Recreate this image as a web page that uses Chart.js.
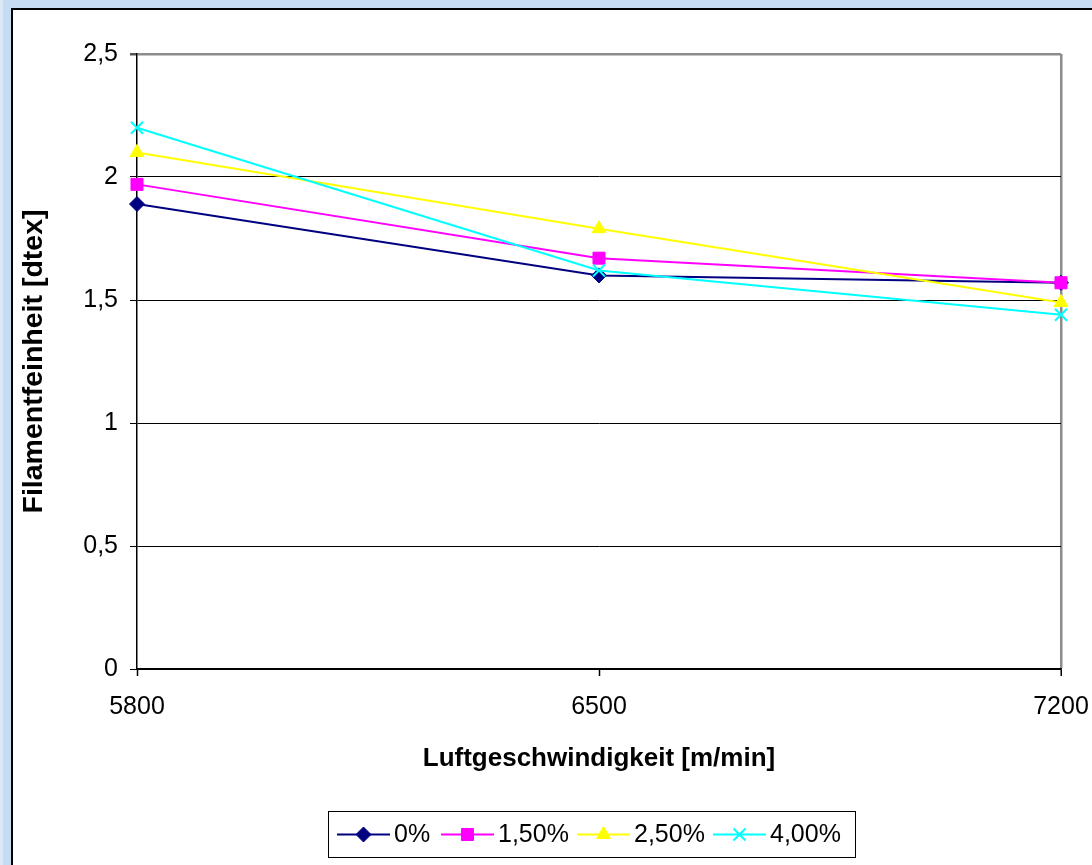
<!DOCTYPE html>
<html>
<head>
<meta charset="utf-8">
<script src="https://cdn.jsdelivr.net/npm/chart.js@4"></script>
<style>
  html, body { margin: 0; padding: 0; width: 1092px; height: 865px; overflow: hidden; background: #c6dcf3; }
  #edgeL { position: absolute; left: 0; top: 0; width: 3px; height: 865px; background: #dbe8f6; }
  #frame { position: absolute; left: 11px; top: 8px; right: 0; bottom: 0; background: #fff;
           border-left: 2px solid #000; border-top: 2px solid #000; }
  #wrap { position: absolute; left: 0; top: 0; width: 1092px; height: 865px; }
</style>
</head>
<body>
<div id="edgeL"></div>
<div id="frame"></div>
<div id="wrap"><canvas id="c" width="1092" height="865"></canvas></div>
<script>
// Air speed categories (m/min)
const categories = ['5800', '6500', '7200'];

// Filament fineness (dtex) per additive share
const series0   = [1.89, 1.60, 1.57];
const series150 = [1.97, 1.67, 1.57];
const series250 = [2.10, 1.79, 1.49];
const series400 = [2.20, 1.62, 1.44];

const seriesLabels = ['0%', '1,50%', '2,50%', '4,00%'];
const yTicks = [0, 0.5, 1, 1.5, 2, 2.5];

const FONT = '"Liberation Sans", Arial, sans-serif';

// Legend box geometry (boxed legend under the chart)
const LEGEND_BOX = { left: 328, top: 811, width: 527, height: 46 };
const LEGEND_ITEM_X = [9, 113, 249, 385];

const boxLegend = {
  id: 'boxLegend',
  afterDraw(chart) {
    const ctx = chart.ctx;
    const b = LEGEND_BOX;
    ctx.save();
    ctx.strokeStyle = '#000';
    ctx.lineWidth = 1;
    ctx.strokeRect(b.left + 0.5, b.top + 0.5, b.width, b.height);
    const cy = b.top + b.height / 2 + 0.5;
    ctx.font = '25px ' + FONT;
    ctx.textBaseline = 'middle';
    ctx.textAlign = 'left';
    chart.data.datasets.forEach((ds, i) => {
      const x = b.left + LEGEND_ITEM_X[i];
      ctx.strokeStyle = ds.borderColor;
      ctx.lineWidth = 2;
      ctx.beginPath();
      ctx.moveTo(x, cy);
      ctx.lineTo(x + 53, cy);
      ctx.stroke();
      ctx.fillStyle = ds.pointBackgroundColor;
      ctx.strokeStyle = ds.pointBorderColor;
      ctx.lineWidth = ds.pointBorderWidth;
      Chart.helpers.drawPoint(ctx, {
        pointStyle: ds.pointStyle, radius: ds.pointRadius,
        borderWidth: ds.pointBorderWidth, rotation: 0
      }, x + 26.5, cy);
      ctx.fillStyle = '#000';
      ctx.fillText(ds.label, x + 57, cy + 1);
    });
    ctx.restore();
  }
};

function lineSet(label, data, color, style, radius, order) {
  return {
    label, data, order,
    borderColor: color,
    backgroundColor: color,
    borderWidth: 2,
    pointStyle: style,
    pointRadius: radius,
    pointHoverRadius: radius,
    pointBackgroundColor: color,
    pointBorderColor: color,
    pointBorderWidth: style === 'crossRot' ? 2 : 1,
    tension: 0,
    clip: false
  };
}

new Chart(document.getElementById('c'), {
  type: 'line',
  data: {
    labels: categories,
    datasets: [
      lineSet(seriesLabels[0], series0,   '#000080', 'rectRot',  7.5, 4),
      lineSet(seriesLabels[1], series150, '#ff00ff', 'rect',     8.5, 3),
      lineSet(seriesLabels[2], series250, '#ffff00', 'triangle', 8,   2),
      lineSet(seriesLabels[3], series400, '#00ffff', 'crossRot', 8.5, 1)
    ]
  },
  options: {
    responsive: false,
    animation: false,
    devicePixelRatio: 1,
    layout: { padding: { left: 14, top: 54, right: 31, bottom: 0 } },
    plugins: { legend: { display: false }, tooltip: { enabled: false } },
    scales: {
      x: {
        type: 'category',
        offset: false,
        afterFit(s) { s.height = 196; s.paddingRight = 0; s.paddingLeft = 0; },
        border: { display: true, color: '#000', width: 1.5 },
        grid: {
          drawOnChartArea: true,
          color: (c) => (c.index === categories.length - 1 ? '#8c8c8c' : 'rgba(0,0,0,0)'),
          lineWidth: (c) => (c.index === categories.length - 1 ? 2.5 : 1),
          tickColor: '#000',
          tickLength: 7,
          tickWidth: 1.5
        },
        ticks: {
          color: '#000',
          font: { family: FONT, size: 25 },
          padding: 16,
          maxRotation: 0,
          autoSkip: false
        },
        title: {
          display: true,
          text: 'Luftgeschwindigkeit [m/min]',
          color: '#000',
          font: { family: FONT, size: 26, weight: 'bold' },
          padding: { top: 0, bottom: 91 }
        }
      },
      y: {
        min: 0,
        max: 2.5,
        afterFit(s) { s.width = 123; },
        afterBuildTicks(s) { s.ticks = yTicks.map(v => ({ value: v })); },
        border: { display: true, color: '#000', width: 1.5 },
        grid: {
          color: (c) => (c.tick && c.tick.value === 2.5 ? '#8c8c8c' : '#000'),
          lineWidth: (c) => (c.tick && c.tick.value === 2.5 ? 2.5 : 1),
          tickColor: (c) => (c.tick && c.tick.value === 2.5 ? '#555' : '#000'),
          tickLength: 7
        },
        ticks: {
          color: '#000',
          font: { family: FONT, size: 25 },
          padding: 12,
          callback: (v) => String(v).replace('.', ',')
        },
        title: {
          display: true,
          text: 'Filamentfeinheit [dtex]',
          color: '#000',
          font: { family: FONT, size: 28.5, weight: 'bold' },
          padding: { top: 3, bottom: 0 }
        }
      }
    }
  },
  plugins: [boxLegend]
});
</script>
</body>
</html>
